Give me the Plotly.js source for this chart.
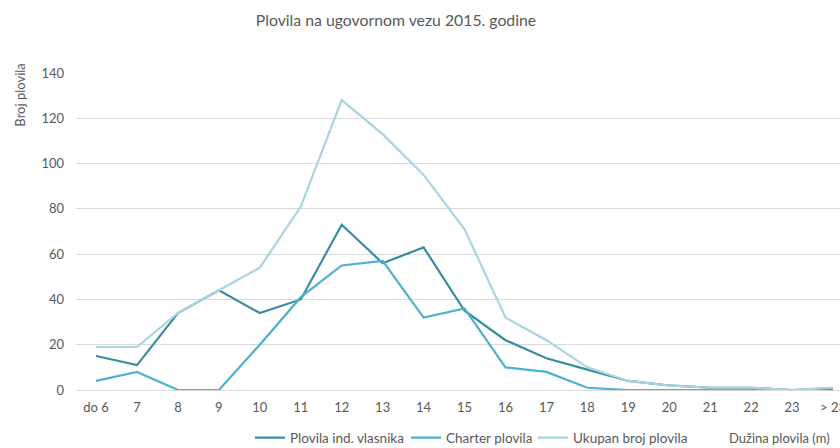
<!DOCTYPE html>
<html>
<head>
<meta charset="utf-8">
<script src="https://cdn.plot.ly/plotly-3.0.1.min.js"></script>
<style>html,body{margin:0;padding:0;overflow:hidden;background:#fff;}#chart{width:840px;height:448px;}</style>
</head>
<body>
<div id="chart"></div>
<script>
const categories = ["do 6","7","8","9","10","11","12","13","14","15","16","17","18","19","20","21","22","23","> 23"];
const indVlasnika = [15,11,34,44,34,40,73,56,63,35,22,14,9,4,2,1,1,0,0];
const charter = [4,8,0,0,20,41,55,57,32,36,10,8,1,0,0,0,0,0,1];
const ukupno = [19,19,34,44,54,81,128,113,95,71,32,22,10,4,2,1,1,0,1];
const seriesNames = ["Plovila ind. vlasnika","Charter plovila","Ukupan broj plovila"];

const FONT = "Lato, 'Open Sans', sans-serif";
const GREY = "#595959";

const traces = [
  {x: categories, y: indVlasnika, name: seriesNames[0], mode: "lines", line: {color: "#3a8da1", width: 2.2}, legend: "legend"},
  {x: categories, y: charter, name: seriesNames[1], mode: "lines", line: {color: "#4db2c9", width: 2.2}, legend: "legend2"},
  {x: categories, y: ukupno, name: seriesNames[2], mode: "lines", line: {color: "#a9d4e0", width: 2.2}, legend: "legend3"}
];

function leg(x) {
  return {orientation: "h", x: x, xanchor: "left", y: -0.151, yanchor: "middle",
    font: {family: FONT, size: 13.5, color: GREY}, itemwidth: 30, bgcolor: "rgba(0,0,0,0)"};
}

const layout = {
  width: 840, height: 448,
  margin: {l: 76, r: 0, t: 73, b: 58, autoexpand: false},
  paper_bgcolor: "#fff", plot_bgcolor: "#fff",
  font: {family: FONT, size: 13, color: GREY},
  title: {text: "Plovila na ugovornom vezu 2015. godine", font: {family: FONT, size: 15.8, color: GREY}, x: 0.4714, xanchor: "center", y: 0.955, yanchor: "middle"},
  xaxis: {
    type: "category", range: [-0.49, 18.17],
    showgrid: false, zeroline: false, showline: false, ticks: "",
    ticklabelstandoff: 8,
    tickfont: {family: FONT, size: 13, color: GREY}
  },
  yaxis: {
    range: [0, 140], dtick: 20, tick0: 0,
    showgrid: true, gridcolor: "#d9d9d9", gridwidth: 1,
    zeroline: true, zerolinecolor: "#d9d9d9", zerolinewidth: 1,
    showline: false, ticks: "",
    ticklabelstandoff: 11,
    tickfont: {family: FONT, size: 13, color: GREY}
  },
  showlegend: true,
  legend: leg(0.2277),
  legend2: leg(0.4319),
  legend3: leg(0.5982),
  annotations: [
    {text: "Dužina plovila (m)", xref: "paper", yref: "paper", x: (727 - 76) / 764, y: -0.151, xanchor: "left", yanchor: "middle", showarrow: false, font: {family: FONT, size: 13, color: GREY}},
    {text: "Broj plovila", xref: "paper", x: -0.073, xanchor: "center", yref: "paper", y: 1.035, yanchor: "top", textangle: -90, showarrow: false, font: {family: FONT, size: 13, color: GREY}}
  ]
};

Plotly.newPlot("chart", traces, layout, {staticPlot: true, displayModeBar: false});
</script>
</body>
</html>
